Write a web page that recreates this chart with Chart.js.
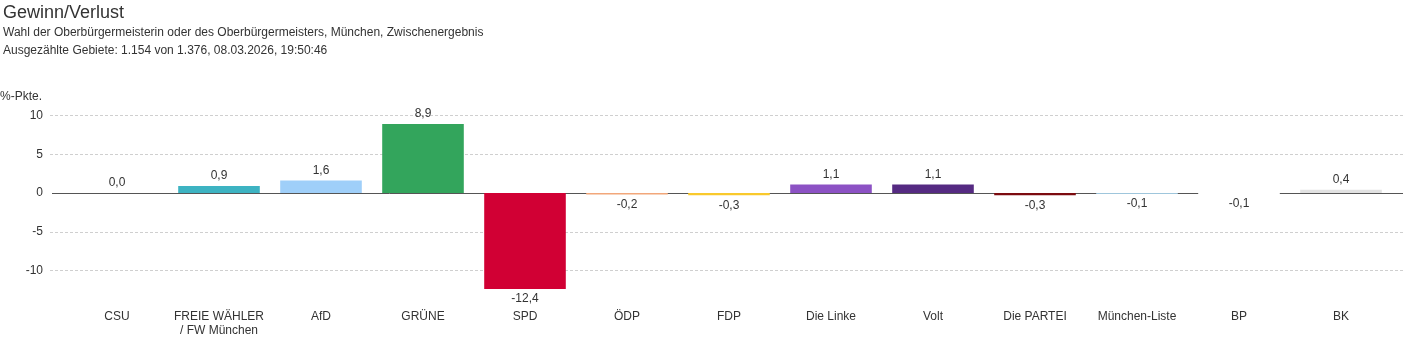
<!DOCTYPE html>
<html lang="de">
<head>
<meta charset="utf-8">
<title>Gewinn/Verlust</title>
<script src="https://cdn.jsdelivr.net/npm/chart.js@4"></script>
<style>
    html, body {
        margin: 0;
        padding: 0;
        background: #fff;
        font-family: "Liberation Sans", Arial, sans-serif;
        color: #333;
    }
    #wrap {
        position: relative;
        width: 1406px;
        height: 352px;
        overflow: hidden;
    }
    .title {
        position: absolute;
        left: 3px;
        top: 2px;
        font-size: 18px;
        color: #333;
    }
    .sub {
        position: absolute;
        left: 3px;
        font-size: 12px;
        color: #333;
    }
    .unit {
        position: absolute;
        left: 0;
        top: 89px;
        font-size: 12px;
        color: #333;
    }
    #chart {
        position: absolute;
        left: 0;
        top: 0;
    }
</style>
</head>
<body>
<div id="wrap">
    <canvas id="chart" width="1406" height="352"></canvas>
    <div class="title">Gewinn/Verlust</div>
    <div class="sub" style="top:25px">Wahl der Oberbürgermeisterin oder des Oberbürgermeisters, München, Zwischenergebnis</div>
    <div class="sub" style="top:43px">Ausgezählte Gebiete: 1.154 von 1.376, 08.03.2026, 19:50:46</div>
    <div class="unit">%-Pkte.</div>
</div>
<script>
const parties = [
    'CSU', ['FREIE WÄHLER', '/ FW München'], 'AfD', 'GRÜNE', 'SPD', 'ÖDP', 'FDP',
    'Die Linke', 'Volt', 'Die PARTEI', 'München-Liste', 'BP', 'BK',
];
const changes = [0.0, 0.9, 1.6, 8.9, -12.4, -0.2, -0.3, 1.1, 1.1, -0.3, -0.1, -0.1, 0.4];
// CSU has no visible bar (0,0), so it gets no fill
const partyColors = [
    'rgba(0,0,0,0)', '#3db3c2', '#9fcff9', '#33a55c', '#d10034', '#f2a77a', '#f9c92c',
    '#8c52c4', '#552a82', '#7c0b0f', '#9fc6dc', '#ffffff', '#e2e2e2',
];
const yTicks = [-10, -5, 0, 5, 10];

const textColor = '#333';
const fontFamily = '"Liberation Sans", Arial, sans-serif';

function fmt(v) {
    return v.toFixed(1).replace('.', ',');
}

// dashed grid lines + solid zero line, drawn under the bars
const gridLines = {
    id: 'gridLines',
    beforeDatasetsDraw(chart) {
        const { ctx, scales } = chart;
        ctx.save();
        ctx.lineWidth = 1;
        yTicks.forEach((v) => {
            const y = Math.round(scales.y.getPixelForValue(v)) + 0.5;
            ctx.beginPath();
            if (v === 0) {
                ctx.setLineDash([]);
                ctx.strokeStyle = '#555';
                ctx.moveTo(52, y);
            } else {
                ctx.setLineDash([3, 2]);
                ctx.strokeStyle = '#cfcfcf';
                ctx.moveTo(50, y);
            }
            ctx.lineTo(1403, y);
            ctx.stroke();
        });
        ctx.restore();
    },
};

// value labels above / below each bar
const valueLabels = {
    id: 'valueLabels',
    afterDatasetsDraw(chart) {
        const ctx = chart.ctx;
        const meta = chart.getDatasetMeta(0);
        ctx.save();
        ctx.font = `12px ${fontFamily}`;
        ctx.fillStyle = textColor;
        ctx.textAlign = 'center';
        ctx.textBaseline = 'middle';
        meta.data.forEach((bar, i) => {
            const v = changes[i];
            const y = v >= 0 ? Math.min(bar.y, bar.base) - 10 : Math.max(bar.y, bar.base) + 10;
            ctx.fillText(fmt(v), bar.x, y);
        });
        ctx.restore();
    },
};

// eslint-disable-next-line no-new
new Chart(document.getElementById('chart'), {
    type: 'bar',
    data: {
        labels: parties,
        datasets: [{
            data: changes,
            backgroundColor: partyColors,
            borderWidth: 0,
            barPercentage: 0.8,
            categoryPercentage: 1,
            minBarLength: 1,
        }],
    },
    plugins: [gridLines, valueLabels],
    options: {
        responsive: false,
        animation: false,
        layout: {
            padding: {
                top: 100,
                right: 14,
                bottom: 0,
                left: 0,
            },
        },
        plugins: {
            legend: { display: false },
            tooltip: { enabled: false },
        },
        scales: {
            y: {
                min: -12.4,
                max: 12,
                afterBuildTicks(scale) {
                    scale.ticks = yTicks.map((v) => ({ value: v }));
                },
                afterFit(scale) {
                    scale.width = 66;
                },
                border: { display: false },
                grid: {
                    display: false,
                },
                ticks: {
                    color: textColor,
                    padding: 15,
                    font: { size: 12, family: fontFamily },
                },
            },
            x: {
                afterFit(scale) {
                    scale.height = 63;
                },
                border: { display: false },
                grid: { display: false },
                ticks: {
                    color: textColor,
                    padding: 12.5,
                    maxRotation: 0,
                    autoSkip: false,
                    font: { size: 12, family: fontFamily },
                },
            },
        },
    },
});
</script>
</body>
</html>
